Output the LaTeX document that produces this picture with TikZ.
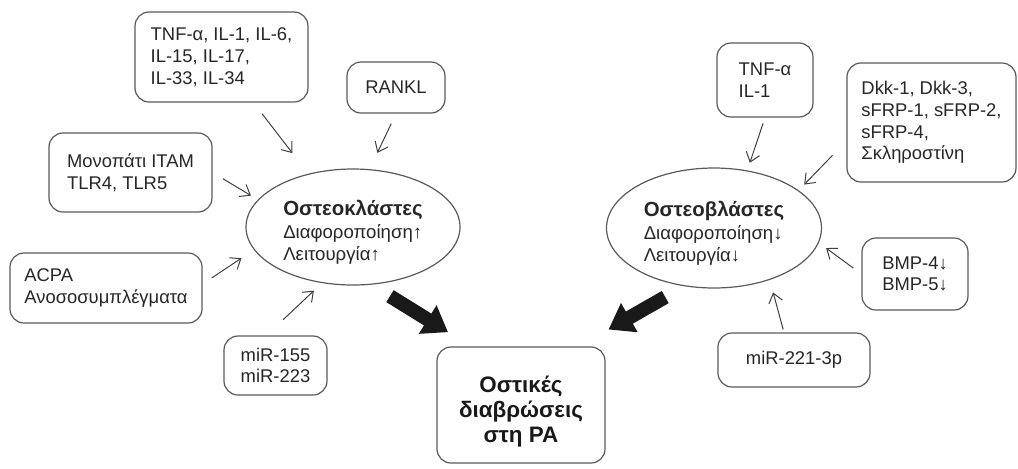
\documentclass[tikz,border=0pt]{standalone}
\usepackage{fontspec}
\setmainfont{Liberation Sans}
\usetikzlibrary{arrows.meta,shapes.geometric}
\tikzset{
  box/.style={rectangle, rounded corners=7pt, draw=black!65, line width=0.6pt,
              align=left, font=\fontsize{9.2}{10.9}\selectfont, text=black!85,
              inner sep=0pt},
  cell/.style={ellipse, draw=black!65, line width=0.6pt, align=left,
               font=\fontsize{9.3}{11.2}\selectfont, text=black!85, inner sep=0pt},
  mainbox/.style={box, align=center, font=\fontsize{11.2}{12.6}\selectfont\bfseries,
                  text=black!90},
  arrow/.style={-{Straight Barb[length=4.5pt,width=7pt]}, black!75, line width=0.5pt},
  bigarrow/.style={-{Triangle[length=12pt,width=16pt]}, line width=7pt, black!90}
}
\newcommand{\celltitle}[1]{\rule{0pt}{13pt}{\fontsize{10.2}{11.2}\selectfont\bfseries #1}}

\begin{document}
\begin{tikzpicture}[x=0.5pt, y=-0.5pt]
  \useasboundingbox (0,0) rectangle (1018,468);
  % cells
  \node[cell, minimum width=107pt, minimum height=58pt] (ocl) at (353,227)
    {\celltitle{Οστεοκλάστες}\\Διαφοροποίηση↑\\Λειτουργία↑};
  \node[cell, minimum width=107.5pt, minimum height=60pt] (obl) at (714,228)
    {\celltitle{Οστεοβλάστες}\\Διαφοροποίηση↓\\Λειτουργία↓};
  \node[mainbox, minimum width=84pt, minimum height=58pt] (ra) at (521,405)
    {\rule{0pt}{15pt}Οστικές\\διαβρώσεις\\στη ΡΑ};
  % osteoclast side
  \node[box, minimum width=86.5pt, minimum height=45pt] (cytL) at (221.5,57)
    {TNF-α, IL-1, IL-6,\\IL-15, IL-17,\\IL-33, IL-34};
  \node[box, minimum width=49pt, minimum height=25.5pt] (rankl) at (396,87.5) {RANKL};
  \node[box, minimum width=81.5pt, minimum height=39.5pt] (itam) at (130.5,172.5)
    {Μονοπάτι ITAM\\TLR4, TLR5};
  \node[box, minimum width=96pt, minimum height=35pt] (acpa) at (106,288)
    {ACPA\\Ανοσοσυμπλέγματα};
  \node[box, minimum width=51.5pt, minimum height=29.5pt] (mirA) at (275.5,365.5)
    {miR-155\\miR-223};
  % osteoblast side
  \node[box, minimum width=48pt, minimum height=37pt] (cytR) at (765,80)
    {TNF-α\\IL-1};
  \node[box, minimum width=84.5pt, minimum height=59.5pt] (dkk) at (931.5,122.5)
    {Dkk-1, Dkk-3,\\sFRP-1, sFRP-2,\\sFRP-4,\\Σκληροστίνη};
  \node[box, minimum width=53pt, minimum height=36pt] (bmp) at (915,274)
    {BMP-4↓\\BMP-5↓};
  \node[box, minimum width=76pt, minimum height=27pt] (mirB) at (794,360)
    {miR-221-3p};

  \draw[arrow, shorten <=7pt, shorten >=13pt] ([xshift=16pt]cytL.south) -- (ocl.130);
  \draw[arrow, shorten <=5.5pt, shorten >=9pt] (rankl.south) -- (ocl.74);
  \draw[arrow, shorten <=6pt, shorten >=4pt] (itam.east) -- (ocl.164);
  \draw[arrow, shorten <=5.5pt, shorten >=7.5pt] ([yshift=2pt]acpa.east) -- (ocl.193);
  \draw[arrow, shorten <=11.5pt, shorten >=5.5pt] ([xshift=-4.5pt]mirA.north) -- (ocl.241);
  \draw[arrow, shorten <=3pt, shorten >=4pt] (cytR.south) -- (obl.60);
  \draw[arrow, shorten <=10pt, shorten >=4pt] ([yshift=-9.25pt]dkk.west) -- (obl.24);
  \draw[arrow, shorten <=5pt, shorten >=4.5pt] (bmp.west) -- (obl.-8);
  \draw[arrow, shorten <=1.5pt, shorten >=6.5pt] ([xshift=-5pt]mirB.north) -- (obl.-43);

  \draw[bigarrow, shorten <=10pt, shorten >=13.5pt] ([xshift=10pt]ocl.south) -- ([xshift=-25pt]ra.north);
  \draw[bigarrow, shorten <=8.5pt, shorten >=17pt] ([xshift=-17pt]obl.south) -- ([xshift=29pt]ra.north);
\end{tikzpicture}
\end{document}
